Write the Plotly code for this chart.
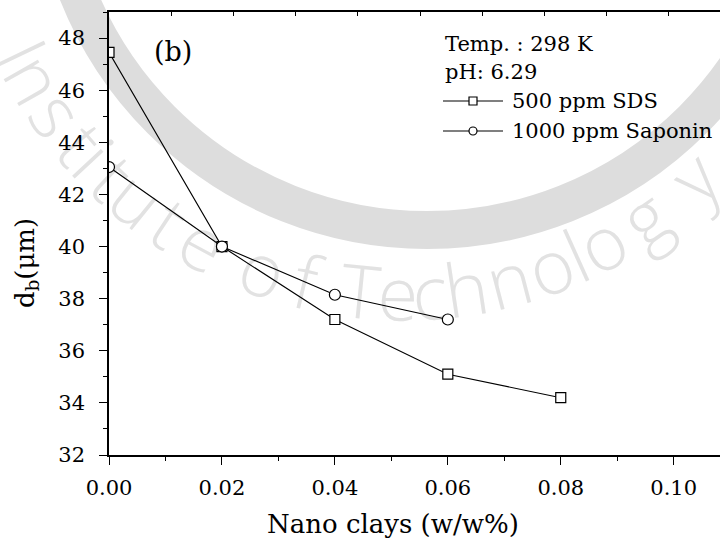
import numpy as np
import plotly.graph_objects as go

# ---------------- data ----------------
x_sds = [0.00, 0.02, 0.04, 0.06, 0.08]
d_sds = [47.45, 40.0, 37.2, 35.1, 34.2]
x_sap = [0.00, 0.02, 0.04, 0.06]
d_sap = [43.05, 40.0, 38.15, 37.2]
series_names = ["500 ppm SDS", "1000 ppm Saponin"]
info_lines = ["Temp. : 298 K", "pH: 6.29"]
panel_label = "(b)"
x_title = "Nano clays (w/w%)"
y_title = "d<sub>b</sub>(\u03bcm)"

W, H = 720, 540
L, R, T, B = 109, 0, 12, 85
PW, PH = W - L - R, H - T - B
FONT = "DejaVu Serif"


def px(xp):
    return (xp - L) / PW


def py(yp):
    return (H - B - yp) / PH


fig = go.Figure()
fig.add_trace(go.Scatter(x=x_sds, y=d_sds, mode="lines+markers", name=series_names[0],
                         line=dict(color="black", width=1.1),
                         marker=dict(symbol="square", size=10, color="white",
                                     line=dict(color="black", width=1.2)),
                         showlegend=False))
fig.add_trace(go.Scatter(x=x_sap, y=d_sap, mode="lines+markers", name=series_names[1],
                         line=dict(color="black", width=1.1),
                         marker=dict(symbol="circle", size=11, color="white",
                                     line=dict(color="black", width=1.2)),
                         showlegend=False))
# empty trace so that the top (mirror) axis with its own ticks gets drawn
fig.add_trace(go.Scatter(x=[], y=[], xaxis="x2", yaxis="y", showlegend=False, hoverinfo="skip"))

shapes = []
annotations = []

# ---- watermark (background decoration) ----
ring_col = "#dddddd"
txt_col = "#e2e2e2"
rcx, rcy, rr = 427, -146, 376
shapes.append(dict(type="circle", xref="paper", yref="paper", layer="below",
                   x0=px(rcx - rr), x1=px(rcx + rr), y0=py(rcy + rr), y1=py(rcy - rr),
                   line=dict(width=38, color=ring_col), fillcolor="rgba(0,0,0,0)"))

wm_letters = list("InstituteofTechnology")
wm_angles = [154.3, 150.4, 144.8, 139.6, 137.0, 133.3, 128.9, 123.5, 118.2,
             109.3, 103.3, 95.8, 90.7, 86.4, 81.4, 75.5, 69.6, 65.8, 61.9, 55.2, 46.5]
tcx, tcy, tR = 403, -130, 427
for ch, a in zip(wm_letters, wm_angles):
    ar = np.deg2rad(a)
    lx = tcx + tR * np.cos(ar)
    ly = tcy + tR * np.sin(ar)
    shapes.append(dict(type="rect", xref="paper", yref="paper", layer="below",
                       x0=px(lx - 1), x1=px(lx + 1), y0=py(ly + 1), y1=py(ly - 1),
                       line=dict(width=0), fillcolor="rgba(0,0,0,0)",
                       label=dict(text=ch, textangle=a - 90, textposition="middle center",
                                  font=dict(family="Open Sans", size=74, color=txt_col,
                                            weight=350))))

# ---- legend block (manual) ----
tf = dict(family=FONT, size=21, color="black")
annotations.append(dict(text=info_lines[0], x=px(443), y=py(44), xref="paper", yref="paper",
                        xanchor="left", yanchor="middle", showarrow=False, font=tf))
annotations.append(dict(text=info_lines[1], x=px(443), y=py(72), xref="paper", yref="paper",
                        xanchor="left", yanchor="middle", showarrow=False, font=tf))
for k, (yy, sym) in enumerate([(101, "rect"), (131, "circle")]):
    shapes.append(dict(type="line", xref="paper", yref="paper",
                       x0=px(443), x1=px(503), y0=py(yy), y1=py(yy),
                       line=dict(color="black", width=1.2)))
    shapes.append(dict(type=sym, xref="paper", yref="paper", xsizemode="pixel", ysizemode="pixel",
                       xanchor=px(473), yanchor=py(yy), x0=-4, x1=4, y0=-4, y1=4,
                       fillcolor="white", line=dict(color="black", width=1.2)))
    annotations.append(dict(text=series_names[k], x=px(510), y=py(yy), xref="paper", yref="paper",
                            xanchor="left", yanchor="middle", showarrow=False, font=tf))

annotations.append(dict(text=panel_label, x=px(173), y=py(51), xref="paper", yref="paper",
                        xanchor="center", yanchor="middle", showarrow=False,
                        font=dict(family=FONT, size=27, color="black")))

# axis titles (placed where the reference puts them)
annotations.append(dict(text=x_title, x=px(393), y=py(524), xref="paper", yref="paper",
                        xanchor="center", yanchor="middle", showarrow=False,
                        font=dict(family=FONT, size=26, color="black")))
annotations.append(dict(text=y_title, x=px(26), y=py(263), xref="paper", yref="paper",
                        xanchor="center", yanchor="middle", showarrow=False, textangle=-90,
                        font=dict(family=FONT, size=26, color="black")))

fig.update_layout(
    width=W, height=H, margin=dict(l=L, r=R, t=T, b=B, pad=0),
    paper_bgcolor="white", plot_bgcolor="rgba(0,0,0,0)",
    shapes=shapes, annotations=annotations, showlegend=False,
    font=dict(family=FONT, color="black"),
    xaxis=dict(range=[0, 0.1082], dtick=0.02, tick0=0, tickformat=".2f",
               showgrid=False, zeroline=False, showline=True, linecolor="black",
               linewidth=1.6, ticks="outside", ticklen=8, tickwidth=1.3,
               tickcolor="black", ticklabelstandoff=5,
               minor=dict(dtick=0.01, ticks="outside", ticklen=4, tickwidth=1.2,
                          tickcolor="black", showgrid=False),
               tickfont=dict(family=FONT, size=21, color="black")),
    xaxis2=dict(overlaying="x", side="top", anchor="y", range=[0, PW / 62.2], dtick=1, tick0=0,
                ticks="inside", ticklen=4, tickwidth=1, tickcolor="black",
                showticklabels=False, showline=True, linecolor="black", linewidth=1.6,
                showgrid=False, zeroline=False),
    yaxis=dict(range=[32, 49.0], dtick=2, tick0=32,
               showgrid=False, zeroline=False, showline=True, linecolor="black",
               linewidth=1.6, ticks="outside", ticklen=8, tickwidth=1.3,
               tickcolor="black", ticklabelstandoff=10,
               minor=dict(dtick=1, ticks="outside", ticklen=4, tickwidth=1.2,
                          tickcolor="black", showgrid=False),
               tickfont=dict(family=FONT, size=21, color="black")),
)

fig.write_html("out.html")
